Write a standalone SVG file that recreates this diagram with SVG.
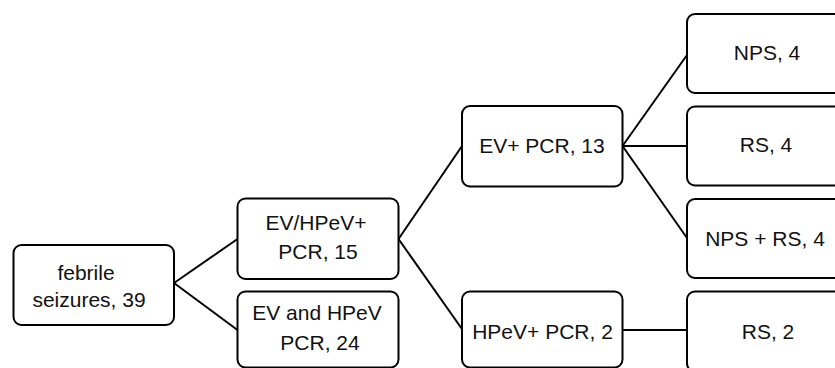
<svg xmlns="http://www.w3.org/2000/svg" width="835" height="368" viewBox="0 0 835 368">
<style>
.box{fill:#fff;stroke:#000;stroke-width:2}
.t{font-family:"Liberation Sans",Arial,sans-serif;font-size:21px;fill:#111;text-anchor:middle}
.c{stroke:#000;stroke-width:2;fill:none}
</style>
<rect width="835" height="368" fill="#fff"/>
<g id="connectors">
<line class="c" x1="174" y1="283" x2="237.5" y2="239"/>
<line class="c" x1="174" y1="283" x2="237.5" y2="330"/>
<line class="c" x1="398.5" y1="239" x2="462" y2="146"/>
<line class="c" x1="398.5" y1="239" x2="462" y2="329"/>
<line class="c" x1="622.5" y1="146" x2="687" y2="55"/>
<line class="c" x1="622.5" y1="146" x2="687" y2="146"/>
<line class="c" x1="622.5" y1="146" x2="687" y2="238"/>
<line class="c" x1="622.5" y1="330" x2="687" y2="330"/>
</g>
<g id="febrile">
<rect class="box" x="13.5" y="245" width="160.5" height="80" rx="8"/>
<text class="t" x="86" y="280">febrile</text>
<text class="t" x="89" y="307">seizures, 39</text>
</g>
<g id="evhpev-pos">
<rect class="box" x="237.5" y="198.5" width="161" height="80.5" rx="8"/>
<text class="t" x="316" y="230">EV/HPeV+</text>
<text class="t" x="318" y="259">PCR, 15</text>
</g>
<g id="evhpev-neg">
<rect class="box" x="237.5" y="291.5" width="161" height="76" rx="8"/>
<text class="t" x="317" y="320">EV and HPeV</text>
<text class="t" x="320" y="350">PCR, 24</text>
</g>
<g id="ev-pos">
<rect class="box" x="462" y="106" width="160.5" height="80.5" rx="8"/>
<text class="t" x="542" y="152.5">EV+ PCR, 13</text>
</g>
<g id="hpev-pos">
<rect class="box" x="462" y="291.5" width="160.5" height="76" rx="8"/>
<text class="t" x="542.5" y="339">HPeV+ PCR, 2</text>
</g>
<g id="nps">
<rect class="box" x="687" y="14" width="161" height="79" rx="8"/>
<text class="t" x="767" y="60">NPS, 4</text>
</g>
<g id="rs4">
<rect class="box" x="687" y="106.5" width="161" height="79" rx="8"/>
<text class="t" x="766" y="152">RS, 4</text>
</g>
<g id="npsrs">
<rect class="box" x="687" y="199" width="161" height="79" rx="8"/>
<text class="t" x="765" y="246">NPS + RS, 4</text>
</g>
<g id="rs2">
<rect class="box" x="687" y="291.5" width="161" height="80" rx="8"/>
<text class="t" x="768" y="339">RS, 2</text>
</g>
</svg>
